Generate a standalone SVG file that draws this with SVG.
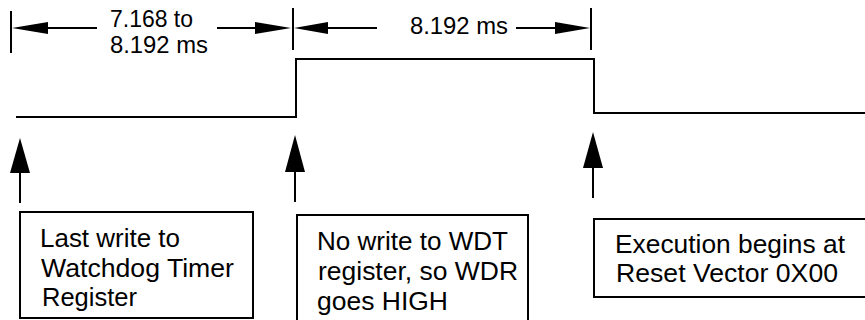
<svg xmlns="http://www.w3.org/2000/svg" width="865" height="320" viewBox="0 0 865 320">
<style>
.ln{stroke:#000;stroke-width:2;fill:none}
.bx{stroke:#000;stroke-width:2;fill:#fff}
.hd{fill:#000;stroke:none}
text{font-family:"Liberation Sans",Arial,Helvetica,sans-serif;font-size:24px;fill:#000}
.bt{font-size:25px}
</style>
<rect width="865" height="320" fill="#fff"/>
<g id="connectors">
<line class="ln" x1="11" y1="11" x2="11" y2="53"/>
<line class="ln" x1="293" y1="8" x2="293" y2="50"/>
<line class="ln" x1="591" y1="8" x2="591" y2="50"/>
<line class="ln" x1="46" y1="28" x2="97" y2="28"/>
<polygon class="hd" points="12,28 48,22 48,34"/>
<line class="ln" x1="217" y1="28" x2="257" y2="28"/>
<polygon class="hd" points="291,28 255,22 255,34"/>
<line class="ln" x1="325" y1="28" x2="377" y2="28"/>
<polygon class="hd" points="294,28 328,22 328,34"/>
<line class="ln" x1="516" y1="28" x2="557" y2="28"/>
<polygon class="hd" points="590,28 555,22 555,34"/>
<polyline class="ln" points="16,117 296,117 296,59 594,59 594,113 865,113"/>
<line class="ln" x1="20" y1="171" x2="20" y2="203"/>
<polygon class="hd" points="20,138 10,173 30,173"/>
<line class="ln" x1="295" y1="170" x2="295" y2="202"/>
<polygon class="hd" points="295,135 285,172 305,172"/>
<line class="ln" x1="593" y1="166" x2="593" y2="198"/>
<polygon class="hd" points="593,132 583,168 603,168"/>
</g>
<g id="label1">
<text x="110" y="27" textLength="83" lengthAdjust="spacingAndGlyphs">7.168 to</text>
<text x="110" y="53" textLength="98" lengthAdjust="spacingAndGlyphs">8.192 ms</text>
</g>
<g id="label2">
<text x="410" y="34" textLength="98" lengthAdjust="spacingAndGlyphs">8.192 ms</text>
</g>
<g id="box1">
<rect class="bx" x="20" y="212" width="233" height="106"/>
<text class="bt" x="40" y="247" textLength="140" lengthAdjust="spacingAndGlyphs">Last write to</text>
<text class="bt" x="41" y="277" textLength="193" lengthAdjust="spacingAndGlyphs">Watchdog Timer</text>
<text class="bt" x="42" y="306" textLength="95" lengthAdjust="spacingAndGlyphs">Register</text>
</g>
<g id="box2">
<rect class="bx" x="297" y="215" width="231" height="110"/>
<text class="bt" x="317" y="250" textLength="191" lengthAdjust="spacingAndGlyphs">No write to WDT</text>
<text class="bt" x="318" y="280" textLength="200" lengthAdjust="spacingAndGlyphs">register, so WDR</text>
<text class="bt" x="317" y="310" textLength="131" lengthAdjust="spacingAndGlyphs">goes HIGH</text>
</g>
<g id="box3">
<rect class="bx" x="594" y="219" width="280" height="78"/>
<text class="bt" x="615" y="253" textLength="230" lengthAdjust="spacingAndGlyphs">Execution begins at</text>
<text class="bt" x="616" y="282" textLength="222" lengthAdjust="spacingAndGlyphs">Reset Vector 0X00</text>
</g>
</svg>
